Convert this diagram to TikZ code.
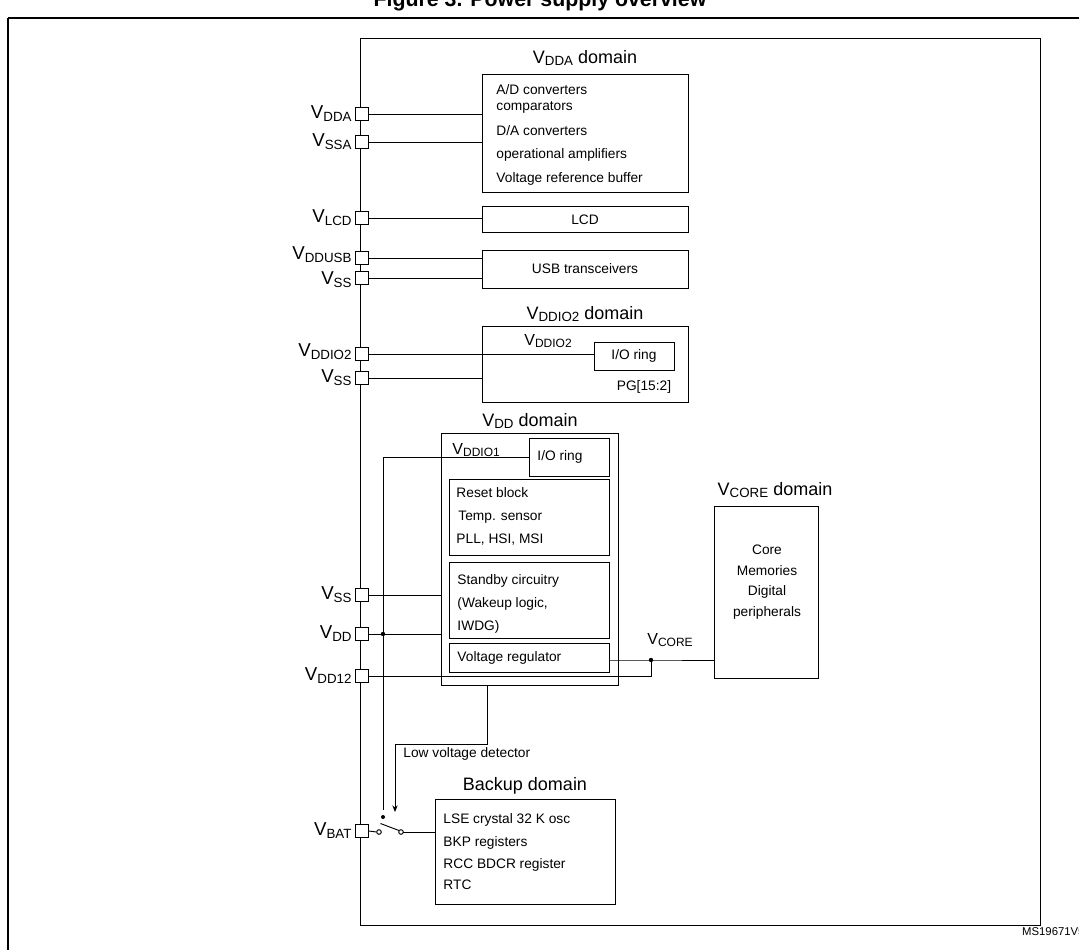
\documentclass[tikz,border=0pt]{standalone}
\usepackage{fontspec}
\setmainfont{Liberation Sans}
\usetikzlibrary{arrows.meta}
\newcommand\Vs[2]{V\raisebox{-0.3ex}{\fontsize{#1}{#1}\selectfont #2}}
\begin{document}
\begin{tikzpicture}[x=0.75pt,y=-0.75pt,line width=0.7pt,
 box/.style={draw},
 txt/.style={font=\fontsize{10.3}{11}\selectfont,inner sep=0},
 pinl/.style={font=\fontsize{14}{14}\selectfont,anchor=east,inner sep=0},
 dom/.style={font=\fontsize{13.5}{13.5}\selectfont,inner sep=0},
 pin/.style={draw,fill=white,minimum size=9.5pt,inner sep=0}]
\useasboundingbox (0,0) rectangle (1079,950);
\begin{scope}
\clip (0,0) rectangle (1079,950);
\node[font=\bfseries\fontsize{16}{16}\selectfont,inner sep=0] (title) at (540,1) {Figure 3. Power supply overview};
\draw[line width=1.4pt] (8,18) -- (1090,18) (8,18) -- (8,960);
\node[font=\fontsize{8.5}{8.5}\selectfont,anchor=east,inner sep=0] (ms) at (1085,932) {MS19671V5};
\end{scope}
\draw (360,38) rectangle (1040,925);
% pins
\foreach \n/\y in {vdda/114,vssa/142,vlcd/218,vddusb/258,vss1/278,vddio2/354,vss2/378,vss3/595,vdd/634,vdd12/676,vbat/831}
  \node[pin] (\n) at (362,\y) {};
\node[pinl] at (352,114) {\Vs{10}{DDA}};
\node[pinl] at (352,142) {\Vs{10}{SSA}};
\node[pinl] at (352,218) {\Vs{10}{LCD}};
\node[pinl] at (352,255) {\Vs{10}{DDUSB}};
\node[pinl] at (352,280) {\Vs{10}{SS}};
\node[pinl] at (352,352) {\Vs{10}{DDIO2}};
\node[pinl] at (352,378) {\Vs{10}{SS}};
\node[pinl] at (352,595) {\Vs{10}{SS}};
\node[pinl] at (352,634) {\Vs{10}{DD}};
\node[pinl] at (352,676) {\Vs{10}{DD12}};
\node[pinl] at (352,831) {\Vs{10}{BAT}};
% VDDA domain
\node[dom] at (585,58) {\Vs{10}{DDA} domain};
\node[box,minimum width=154.5pt,minimum height=88.5pt,anchor=north west] (adc) at (482,74) {};
\foreach \t/\y in {{A/D converters}/90,comparators/107,{D/A converters}/131,operational amplifiers/155,Voltage reference buffer/179}
  \node[txt,anchor=west] at (496,\y) {\t};
\draw (vdda.east) -- (vdda.east -| adc.west);
\draw (vssa.east) -- (vssa.east -| adc.west);
% LCD
\node[box,minimum width=154.5pt,minimum height=19.5pt,anchor=north west] (lcd) at (482,206) {};
\node[txt] at (585,220) {LCD};
\draw (vlcd.east) -- (vlcd.east -| lcd.west);
% USB
\node[box,minimum width=154.5pt,minimum height=28.5pt,anchor=north west] (usb) at (482,250) {};
\node[txt] at (585,269) {USB transceivers};
\draw (vddusb.east) -- (vddusb.east -| usb.west);
\draw (vss1.east) -- (vss1.east -| usb.west);
% VDDIO2
\node[dom] at (585,314) {\Vs{10}{DDIO2} domain};
\node[box,minimum width=154.5pt,minimum height=57pt,anchor=north west] (io2d) at (482,326) {};
\node[box,minimum width=60pt,minimum height=21pt,anchor=north west] (io2) at (594,342) {};
\node[txt] at (634,356) {I/O ring};
\node[font=\fontsize{12}{12}\selectfont,inner sep=0] at (548,341) {\Vs{9}{DDIO2}};
\node[txt] at (644,387) {PG[15:2]};
\draw (vddio2.east) -- (vddio2.east -| io2.west);
\draw (vss2.east) -- (vss2.east -| io2d.west);
% VDD domain
\node[dom] at (530,421) {\Vs{10}{DD} domain};
\node[box,minimum width=132.75pt,minimum height=189pt,anchor=north west] (vddd) at (441,433) {};
\node[box,minimum width=60pt,minimum height=28.5pt,anchor=north west] (io1) at (529,438) {};
\node[txt,anchor=west] at (537,457) {I/O ring};
\node[font=\fontsize{12}{12}\selectfont,inner sep=0,anchor=west] at (452,450) {\Vs{9}{DDIO1}};
\node[box,minimum width=120pt,minimum height=57pt,anchor=north west] (rst) at (449,479) {};
\node[txt,anchor=west] at (456,493) {Reset block};
\node[txt,anchor=west] at (458,517) {Temp. sensor};
\node[txt,anchor=west] at (456,540) {PLL, HSI, MSI};
\node[box,minimum width=120pt,minimum height=57pt,anchor=north west] (stb) at (449,562) {};
\node[txt,anchor=west] at (457,581) {Standby circuitry};
\node[txt,anchor=west] at (457,604) {(Wakeup logic,};
\node[txt,anchor=west] at (457,627) {IWDG)};
\node[box,minimum width=120pt,minimum height=22pt,anchor=north west] (vreg) at (449,643) {};
\node[txt,anchor=west] at (457,658) {Voltage regulator};
\coordinate (j1) at (383,457);
\draw (io1.west |- j1) -- (j1) -- (383,810);
\draw (vss3.east) -- (vss3.east -| vddd.west);
\draw (vdd.east) -- (vdd.east -| vddd.west);
\fill (383,634) circle (2.2);
% VCORE
\node[dom] at (775,490) {\Vs{10}{CORE} domain};
\node[box,minimum width=78pt,minimum height=129pt,anchor=north west] (core) at (714,506) {};
\foreach \t/\y in {Core/550,Memories/571,Digital/592,peripherals/613}
  \node[txt] at (767,\y) {\t};
\coordinate (jc) at (651,660);
\draw (vreg.east |- jc) -- (jc) -- (core.west |- jc);
\draw (vdd12.east) -- (651,676) -- (jc);
\fill (jc) circle (2.2);
\node[font=\fontsize{12}{12}\selectfont,inner sep=0] at (670,640) {\Vs{9}{CORE}};
% LVD
\draw[-{Stealth[length=5pt,width=4pt]}] (487,685) -- (487,744) -- (395,744) -- (395,812);
\node[txt,anchor=west] at (403,754) {Low voltage detector};
% Backup
\node[dom] at (525,786) {Backup domain};
\node[box,minimum width=135pt,minimum height=79pt,anchor=north west] (bkp) at (435,799) {};
\foreach \t/\y in {LSE crystal 32 K osc/820,BKP registers/843,RCC BDCR register/865,RTC/885}
  \node[txt,anchor=west] at (443,\y) {\t};
% switch
\coordinate (s1) at (379,832);
\coordinate (s2) at (401,832);
\draw (vbat.east) -- (376.5,832);
\draw (s1) circle (2.3) (s2) circle (2.3);
\draw (380.5,823.5) -- (399,830.5);
\fill (383,817) circle (2);
\draw (403.3,832) -- (bkp.west |- s2);
\end{tikzpicture}
\end{document}
